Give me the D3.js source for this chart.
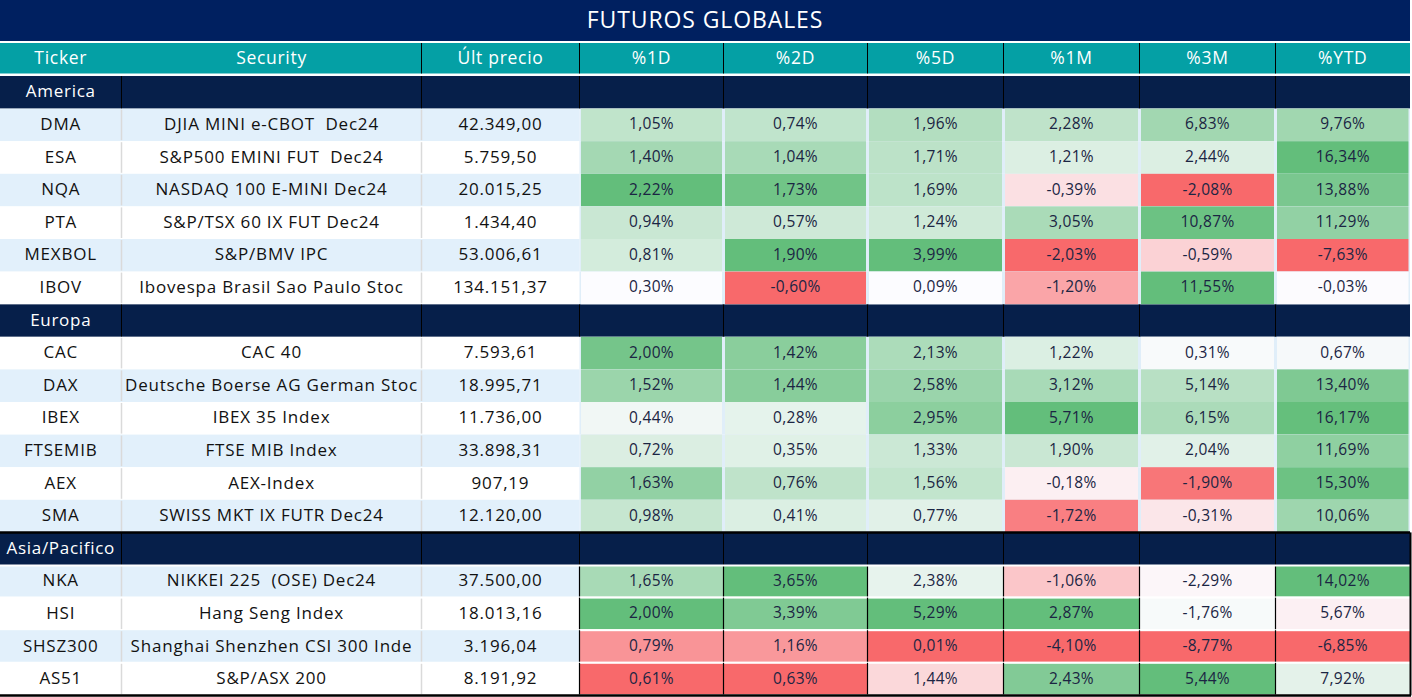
<!DOCTYPE html>
<html>
<head>
<meta charset="utf-8">
<script src="https://cdn.jsdelivr.net/npm/d3@7/dist/d3.min.js"></script>
<style>
  html, body { margin: 0; padding: 0; background: #ffffff; }
  svg { display: block; }
  text { font-family: "Open Sans", "Noto Sans", sans-serif; }
</style>
</head>
<body>
<div id="chart"></div>
<script>
// ---------------- DATA ----------------
const title = "FUTUROS GLOBALES";
const headerLabels = ["Ticker", "Security", "Últ precio", "%1D", "%2D", "%5D", "%1M", "%3M", "%YTD"];
const sections = ["America", "Europa", "Asia/Pacifico"];
const sectionSizes = [6, 6, 4];
const tickers = ["DMA", "ESA", "NQA", "PTA", "MEXBOL", "IBOV",
                 "CAC", "DAX", "IBEX", "FTSEMIB", "AEX", "SMA",
                 "NKA", "HSI", "SHSZ300", "AS51"];
const securities = ["DJIA MINI e-CBOT  Dec24", "S&P500 EMINI FUT  Dec24", "NASDAQ 100 E-MINI Dec24",
                    "S&P/TSX 60 IX FUT Dec24", "S&P/BMV IPC", "Ibovespa Brasil Sao Paulo Stoc",
                    "CAC 40", "Deutsche Boerse AG German Stoc", "IBEX 35 Index", "FTSE MIB Index",
                    "AEX-Index", "SWISS MKT IX FUTR Dec24",
                    "NIKKEI 225  (OSE) Dec24", "Hang Seng Index", "Shanghai Shenzhen CSI 300 Inde", "S&P/ASX 200"];
const lastPrice = [42349.00, 5759.50, 20015.25, 1434.40, 53006.61, 134151.37,
                   7593.61, 18995.71, 11736.00, 33898.31, 907.19, 12120.00,
                   37500.00, 18013.16, 3196.04, 8191.92];
const pct1D  = [1.05, 1.40, 2.22, 0.94, 0.81, 0.30,   2.00, 1.52, 0.44, 0.72, 1.63, 0.98,   1.65, 2.00, 0.79, 0.61];
const pct2D  = [0.74, 1.04, 1.73, 0.57, 1.90, -0.60,  1.42, 1.44, 0.28, 0.35, 0.76, 0.41,   3.65, 3.39, 1.16, 0.63];
const pct5D  = [1.96, 1.71, 1.69, 1.24, 3.99, 0.09,   2.13, 2.58, 2.95, 1.33, 1.56, 0.77,   2.38, 5.29, 0.01, 1.44];
const pct1M  = [2.28, 1.21, -0.39, 3.05, -2.03, -1.20, 1.22, 3.12, 5.71, 1.90, -0.18, -1.72, -1.06, 2.87, -4.10, 2.43];
const pct3M  = [6.83, 2.44, -2.08, 10.87, -0.59, 11.55, 0.31, 5.14, 6.15, 2.04, -1.90, -0.31, -2.29, -1.76, -8.77, 5.44];
const pctYTD = [9.76, 16.34, 13.88, 11.29, -7.63, -0.03, 0.67, 13.40, 16.17, 11.69, 15.30, 10.06, 14.02, 5.67, -6.85, 7.92];
const pctSeries = [pct1D, pct2D, pct5D, pct1M, pct3M, pctYTD];

// ---------------- LAYOUT ----------------
const W = 1412, H = 697;
const colKeys = ["ticker", "security", "price", "p1D", "p2D", "p5D", "p1M", "p3M", "pYTD"];
const colWidths = [121.5, 300, 158, 144, 144, 136, 136, 136, 134.5];
const edges = [0, ...d3.cumsum(colWidths)];
const xLeft = d3.scaleOrdinal().domain(colKeys).range(edges.slice(0, -1));
const xWidth = d3.scaleOrdinal().domain(colKeys).range(colWidths);
const tableRight = edges[edges.length - 1];

const titleH = 41, headerY = 43, headerH = 30.5, rowsTop = 76, rowsBottom = 695.4;
const TY = -1.5; // vertical text nudge

const COL = {
  title: "#002060", header: "#04A0A5", section: "#061F4A",
  band: "#E2F0FB", gap: "#E0EEF9", grid: "#DADADA",
  red: "#F8696B", white: "#FCFCFF", green: "#63BE7B",
  text: "#111111", num: "#1B2543"
};

// rows model
const rows = [];
let di = 0;
sections.forEach((s, si) => {
  rows.push({ id: "s" + si, type: "section", name: s, sec: si });
  for (let k = 0; k < sectionSizes[si]; k++) {
    rows.push({ id: "d" + di, type: "data", i: di, sec: si });
    di++;
  }
});
rows.forEach((r, idx) => r.idx = idx);

const y = d3.scaleBand().domain(rows.map(r => r.id)).range([rowsTop, rowsBottom]).paddingInner(0);

// locale (es)
const es = d3.formatLocale({ decimal: ",", thousands: ".", grouping: [3], currency: ["", "€"], minus: "-" });
const fPrice = es.format(",.2f");
const fPct = v => es.format(".2f")(v) + "%";

// colour scales: America+Europa share a scale with midpoint 0, Asia uses percentile-50 midpoint
function sectionIndices(secList) {
  return rows.filter(r => r.type === "data" && secList.includes(r.sec)).map(r => r.i);
}
const groups = [
  { secs: [0, 1], mid: "zero" },
  { secs: [2], mid: "median" }
];
const colorFns = pctSeries.map(series => {
  const fnBySec = {};
  groups.forEach(g => {
    const vals = sectionIndices(g.secs).map(i => series[i]);
    const lo = d3.min(vals), hi = d3.max(vals);
    let mid = g.mid === "zero" ? 0 : d3.median(vals);
    mid = Math.max(lo, Math.min(hi, mid));
    const up = d3.scaleLinear().domain([mid, hi]).range([COL.white, COL.green]).interpolate(d3.interpolateRgb).clamp(true);
    const dn = d3.scaleLinear().domain([mid, lo]).range([COL.white, COL.red]).interpolate(d3.interpolateRgb).clamp(true);
    const f = v => (v >= mid ? (hi === mid ? COL.white : up(v)) : (lo === mid ? COL.white : dn(v)));
    g.secs.forEach(s => fnBySec[s] = f);
  });
  return fnBySec;
});

// ---------------- DRAW ----------------
const svg = d3.select("#chart").append("svg").attr("width", W).attr("height", H);
svg.append("rect").attr("width", W).attr("height", H).attr("fill", "#ffffff");

// title
svg.append("rect").attr("x", 0).attr("y", 0).attr("width", tableRight).attr("height", titleH).attr("fill", COL.title);
svg.append("text").attr("x", tableRight / 2).attr("y", titleH / 2 + TY)
  .attr("text-anchor", "middle").attr("dominant-baseline", "central")
  .attr("fill", "#ffffff").attr("font-size", 23).attr("letter-spacing", 0.9).text(title);

// header
svg.append("rect").attr("x", 0).attr("y", headerY).attr("width", tableRight).attr("height", headerH).attr("fill", COL.header);
svg.selectAll("text.hdr").data(colKeys).join("text").attr("class", "hdr")
  .attr("x", k => xLeft(k) + xWidth(k) / 2).attr("y", headerY + headerH / 2 + TY)
  .attr("text-anchor", "middle").attr("dominant-baseline", "central")
  .attr("fill", "#ffffff").attr("font-size", 17.5).attr("letter-spacing", 0.7)
  .text((k, i) => headerLabels[i]);
svg.selectAll("line.hdrsep").data(edges.slice(2, -1)).join("line").attr("class", "hdrsep")
  .attr("x1", d => d).attr("x2", d => d).attr("y1", headerY).attr("y2", headerY + headerH)
  .attr("stroke", "#000").attr("stroke-width", 1);

// section rows
const secRows = rows.filter(r => r.type === "section");
const secG = svg.selectAll("g.sec").data(secRows).join("g").attr("class", "sec");
secG.append("rect").attr("x", 0).attr("y", r => y(r.id)).attr("width", tableRight).attr("height", y.bandwidth())
  .attr("fill", COL.section);
secG.each(function (r) {
  d3.select(this).selectAll("line").data(edges.slice(1, -1)).join("line")
    .attr("x1", d => d).attr("x2", d => d).attr("y1", y(r.id)).attr("y2", y(r.id) + y.bandwidth())
    .attr("stroke", "#000").attr("stroke-width", 1);
});
secG.append("text")
  .attr("x", xLeft("ticker") + xWidth("ticker") / 2).attr("y", r => y(r.id) + y.bandwidth() / 2 + TY)
  .attr("text-anchor", "middle").attr("dominant-baseline", "central")
  .attr("fill", "#ffffff").attr("font-size", 17).attr("letter-spacing", 0.7).text(r => r.name);

// data rows
const dataRows = rows.filter(r => r.type === "data");
const rowG = svg.selectAll("g.row").data(dataRows).join("g").attr("class", "row");

// identity columns background (banded)
rowG.append("rect").attr("x", 0).attr("y", r => y(r.id)).attr("width", xLeft("p1D")).attr("height", y.bandwidth())
  .attr("fill", r => (r.idx % 2 === 1 ? COL.band : "#ffffff"));
// heatmap area background
rowG.append("rect").attr("x", xLeft("p1D")).attr("y", r => y(r.id)).attr("width", tableRight - xLeft("p1D")).attr("height", y.bandwidth())
  .attr("fill", r => (r.sec === 2 ? "#ffffff" : COL.gap));

// heatmap cells
const pctKeys = colKeys.slice(3);
rowG.each(function (r) {
  const g = d3.select(this);
  const asia = r.sec === 2;
  g.selectAll("rect.cell").data(pctKeys).join("rect").attr("class", "cell")
    .attr("x", k => xLeft(k) + (asia ? 0 : 1.5))
    .attr("width", k => xWidth(k) - (asia ? 0 : 3))
    .attr("y", y(r.id) + (asia ? 1 : 0))
    .attr("height", y.bandwidth() - (asia ? 2 : 0))
    .attr("fill", (k, j) => colorFns[j][r.sec](pctSeries[j][r.i]));
  g.selectAll("text.pct").data(pctKeys).join("text").attr("class", "pct")
    .attr("x", k => xLeft(k) + xWidth(k) / 2).attr("y", y(r.id) + y.bandwidth() / 2 + TY)
    .attr("text-anchor", "middle").attr("dominant-baseline", "central")
    .attr("fill", COL.num).attr("font-size", 15.5).attr("letter-spacing", 0.3)
    .text((k, j) => fPct(pctSeries[j][r.i]));
  // grid lines for identity columns
  g.selectAll("line.idg").data(edges.slice(1, 3)).join("line").attr("class", "idg")
    .attr("x1", d => d).attr("x2", d => d).attr("y1", y(r.id) + 1).attr("y2", y(r.id) + y.bandwidth() - 1)
    .attr("stroke", COL.grid).attr("stroke-width", 1.5);
  if (asia) {
    g.selectAll("line.asg").data(edges.slice(3, -1)).join("line").attr("class", "asg")
      .attr("x1", d => d).attr("x2", d => d).attr("y1", y(r.id)).attr("y2", y(r.id) + y.bandwidth())
      .attr("stroke", "#000").attr("stroke-width", 1.2);
    g.append("line").attr("x1", 0).attr("x2", tableRight).attr("y1", y(r.id) + y.bandwidth()).attr("y2", y(r.id) + y.bandwidth())
      .attr("stroke", "#ffffff").attr("stroke-width", 2);
  }
});

// identity text
const idCols = [
  { key: "ticker", get: i => tickers[i] },
  { key: "security", get: i => securities[i] },
  { key: "price", get: i => fPrice(lastPrice[i]) }
];
rowG.each(function (r) {
  d3.select(this).selectAll("text.id").data(idCols).join("text").attr("class", "id")
    .attr("x", c => xLeft(c.key) + xWidth(c.key) / 2).attr("y", y(r.id) + y.bandwidth() / 2 + TY)
    .attr("text-anchor", "middle").attr("dominant-baseline", "central")
    .attr("fill", COL.text).attr("font-size", 17).attr("letter-spacing", 0.8)
    .style("white-space", "pre")
    .text(c => c.get(r.i));
});

// Asia borders
const asiaRow = secRows[2];
const asiaTop = y(asiaRow.id);
svg.append("line").attr("x1", 0).attr("x2", tableRight).attr("y1", asiaTop).attr("y2", asiaTop)
  .attr("stroke", "#000").attr("stroke-width", 2.5);
svg.append("line").attr("x1", 0).attr("x2", tableRight).attr("y1", asiaTop + y.bandwidth() + 0.5).attr("y2", asiaTop + y.bandwidth() + 0.5)
  .attr("stroke", "#fff").attr("stroke-width", 2);
svg.append("line").attr("x1", 0).attr("x2", tableRight + 1).attr("y1", rowsBottom).attr("y2", rowsBottom)
  .attr("stroke", "#000").attr("stroke-width", 2.5);
svg.append("line").attr("x1", tableRight + 0.5).attr("x2", tableRight + 0.5).attr("y1", asiaTop).attr("y2", rowsBottom)
  .attr("stroke", "#000").attr("stroke-width", 2);
</script>
</body>
</html>
